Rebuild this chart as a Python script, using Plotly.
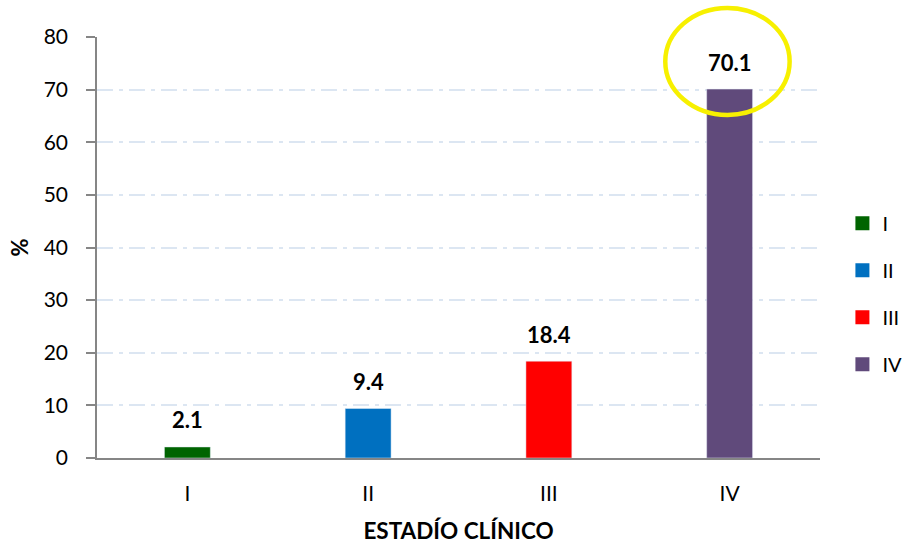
import plotly.graph_objects as go

# Distribution of patients by clinical stage (%)
stages = ["I", "II", "III", "IV"]
percentages = [2.1, 9.4, 18.4, 70.1]
bar_colors = ["#006400", "#0070C0", "#FF0000", "#604A7B"]
y_ticks = [0, 10, 20, 30, 40, 50, 60, 70, 80]

FONT = "Lato, Calibri, sans-serif"

fig = go.Figure()
for stage, val, col in zip(stages, percentages, bar_colors):
    fig.add_trace(go.Bar(
        x=[stage], y=[val], name=stage, marker_color=col,
        width=0.254, showlegend=False,
    ))
    # legend swatch as a larger square marker
    fig.add_trace(go.Scatter(
        x=[None], y=[None], mode="markers", name=stage, legendgroup=stage,
        marker=dict(symbol="square", size=14, color=col),
    ))
    fig.add_annotation(
        x=stage, y=val, text=f"<b>{val:.1f}</b>", showarrow=False,
        yshift=27, font=dict(size=22, color="black", family=FONT),
    )

# Highlight ring around the stage IV value
fig.add_shape(
    type="circle", xref="paper", yref="paper",
    x0=0.786, x1=0.958, y0=0.815, y1=1.069,
    line=dict(color="#F7F000", width=4.5),
)

fig.update_layout(
    width=905, height=544,
    margin=dict(l=97, r=85, t=37, b=86, autoexpand=False),
    paper_bgcolor="white", plot_bgcolor="white",
    barmode="overlay",
    showlegend=True,
    legend=dict(
        x=1.031, y=0.39, xanchor="left", yanchor="middle",
        font=dict(size=20, family=FONT, color="black"),
        tracegroupgap=18, itemwidth=30,
    ),
    font=dict(family=FONT, color="black"),
)

fig.update_xaxes(
    categoryorder="array", categoryarray=stages,
    showline=True, linecolor="#868686", linewidth=1.5,
    ticks="", tickfont=dict(size=21, family=FONT),
    ticklabelstandoff=16, automargin=False,
    title=dict(text="<b>ESTADÍO CLÍNICO</b>", font=dict(size=22.5, family=FONT), standoff=26),
    showgrid=False,
)
fig.update_yaxes(
    range=[0, 80], tickvals=y_ticks,
    showline=True, linecolor="#868686", linewidth=1.5,
    ticks="outside", ticklen=9, tickcolor="#868686", tickwidth=1.5,
    tickfont=dict(size=21, family=FONT), ticklabelstandoff=14,
    showgrid=True, gridcolor="#DCE6F2", gridwidth=1.5, griddash="16px,6px,4px,6px",
    zeroline=False, automargin=False,
    title=dict(text="<b>%</b>", font=dict(size=22, family=FONT), standoff=9),
)

fig.write_html("out.html")
